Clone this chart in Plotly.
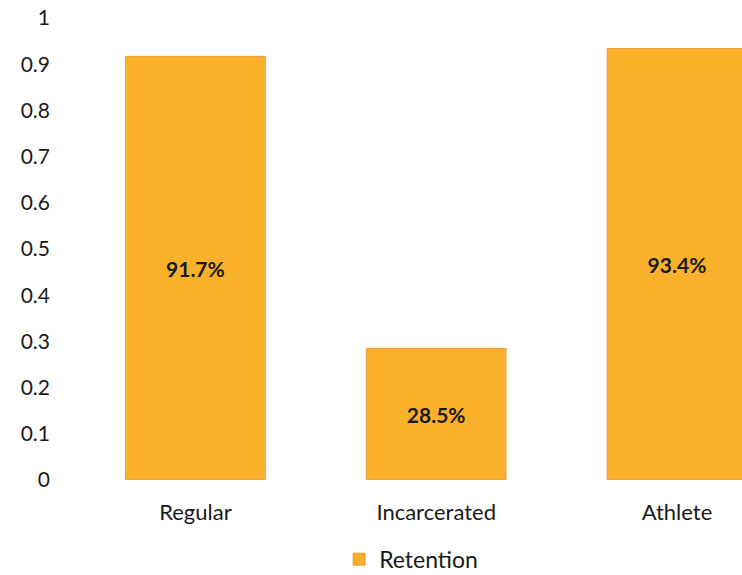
import plotly.graph_objects as go

# Retention rate by student group
categories = ["Regular", "Incarcerated", "Athlete"]
retention = [0.917, 0.285, 0.934]
y_ticks = [0, 0.1, 0.2, 0.3, 0.4, 0.5, 0.6, 0.7, 0.8, 0.9, 1]
y_tick_labels = ["0", "0.1", "0.2", "0.3", "0.4", "0.5", "0.6", "0.7", "0.8", "0.9", "1"]

bar_labels = [f"{v * 100:.1f}%" for v in retention]

fig = go.Figure(
    go.Bar(
        x=categories,
        y=retention,
        name="Retention",
        text=bar_labels,
        textposition="inside",
        insidetextanchor="middle",
        textfont=dict(family="Lato", size=21, color="#1a1a1a", weight="bold"),
        marker=dict(color="#F9B02A", line=dict(color="#F29A3C", width=1)),
        width=0.58,
        showlegend=True,
    )
)

fig.update_layout(
    width=742,
    height=575,
    margin=dict(l=75, r=0, t=18, b=95, autoexpand=False),
    paper_bgcolor="white",
    plot_bgcolor="white",
    font=dict(family="Lato", size=20, color="#1a1a1a"),
    bargap=0.42,
    uniformtext=dict(minsize=21, mode="show"),
    xaxis=dict(
        type="category",
        range=[-0.5, 2.27],
        showgrid=False,
        showline=False,
        zeroline=False,
        ticks="",
        ticklabelstandoff=17,
        tickfont=dict(family="Lato", size=22, color="#1a1a1a"),
        fixedrange=True,
    ),
    yaxis=dict(
        range=[0, 1],
        tickvals=y_ticks,
        ticktext=y_tick_labels,
        showgrid=False,
        showline=False,
        zeroline=False,
        ticks="",
        ticklabelstandoff=24,
        tickfont=dict(family="Lato", size=21, color="#1a1a1a"),
        fixedrange=True,
    ),
    legend=dict(
        orientation="h",
        x=0.396,
        xanchor="left",
        y=-0.125,
        yanchor="top",
        font=dict(family="Lato", size=23, color="#1a1a1a"),
        itemwidth=30,
    ),
)

fig.write_html("out.html")
